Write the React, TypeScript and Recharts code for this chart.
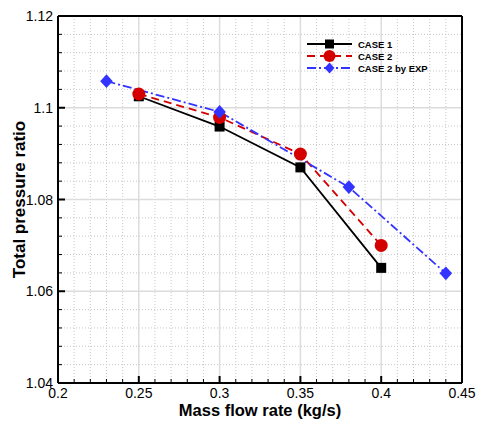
import React from 'react';
import { LineChart, Line, XAxis, YAxis, CartesianGrid, ReferenceLine, Legend } from 'recharts';

const case1 = [
  { x: 0.25, y: 1.1025 },
  { x: 0.3, y: 1.0959 },
  { x: 0.35, y: 1.087 },
  { x: 0.4, y: 1.0651 },
];
const case2 = [
  { x: 0.25, y: 1.103 },
  { x: 0.3, y: 1.0979 },
  { x: 0.35, y: 1.0899 },
  { x: 0.4, y: 1.07 },
];
const case2Exp = [
  { x: 0.23, y: 1.1058 },
  { x: 0.3, y: 1.0991 },
  { x: 0.38, y: 1.0827 },
  { x: 0.44, y: 1.0639 },
];

const xMajor = [0.2, 0.25, 0.3, 0.35, 0.4, 0.45];
const xMinor = [0.21, 0.22, 0.23, 0.24, 0.26, 0.27, 0.28, 0.29, 0.31, 0.32, 0.33, 0.34, 0.36, 0.37, 0.38, 0.39, 0.41, 0.42, 0.43, 0.44];
const yMajor = [1.04, 1.06, 1.08, 1.1, 1.12];
const yMinor = [1.044, 1.048, 1.052, 1.056, 1.064, 1.068, 1.072, 1.076, 1.084, 1.088, 1.092, 1.096, 1.104, 1.108, 1.112, 1.116];
const xLabels = ['0.2', '0.25', '0.3', '0.35', '0.4', '0.45'];
const yLabels = ['1.04', '1.06', '1.08', '1.1', '1.12'];

const xAll = [...xMajor, ...xMinor].sort((a, b) => a - b);
const yAll = [...yMajor, ...yMinor].sort((a, b) => a - b);

const FONT = 'Arial, "Liberation Sans", Helvetica, sans-serif';
const RED = '#d40000';
const BLUE = '#3333ff';

const seriesNames = ['CASE 1', 'CASE 2', 'CASE 2 by EXP'];

const XTick = (props: any) => {
  const { x, y, payload } = props;
  const idx = xMajor.indexOf(payload.value);
  const major = idx >= 0;
  return (
    <g>
      <line x1={x} y1={y} x2={x} y2={y - (major ? 7 : 4)} stroke="#000" strokeWidth={major ? 2 : 1} />
      {major && (
        <text x={x} y={y + 15} textAnchor="middle" fontFamily={FONT} fontSize={14} fill="#000">
          {xLabels[idx]}
        </text>
      )}
    </g>
  );
};

const YTick = (props: any) => {
  const { x, y, payload } = props;
  const idx = yMajor.indexOf(payload.value);
  const major = idx >= 0;
  return (
    <g>
      <line x1={x} y1={y} x2={x + (major ? 7 : 4)} y2={y} stroke="#000" strokeWidth={major ? 2 : 1} />
      {major && (
        <text x={x - 5} y={y + 5} textAnchor="end" fontFamily={FONT} fontSize={14} fill="#000">
          {yLabels[idx]}
        </text>
      )}
    </g>
  );
};

const SquareDot = (props: any) => {
  const { cx, cy, index } = props;
  return <rect key={`s${index}`} x={cx - 5} y={cy - 5} width={10} height={10} fill="#000" />;
};
const CircleDot = (props: any) => {
  const { cx, cy, index } = props;
  return <circle key={`c${index}`} cx={cx} cy={cy} r={6.5} fill={RED} />;
};
const DiamondDot = (props: any) => {
  const { cx, cy, index } = props;
  return (
    <polygon
      key={`d${index}`}
      points={`${cx},${cy - 6.8} ${cx + 6.3},${cy} ${cx},${cy + 6.8} ${cx - 6.3},${cy}`}
      fill={BLUE}
    />
  );
};

const LegendContent = () => {
  const rows = [8, 20, 32];
  return (
    <svg width={170} height={42} style={{ display: 'block' }}>
      <line x1={7} y1={rows[0]} x2={52} y2={rows[0]} stroke="#000" strokeWidth={1.8} />
      <rect x={25} y={rows[0] - 4.5} width={9} height={9} fill="#000" />
      <line x1={7} y1={rows[1]} x2={52} y2={rows[1]} stroke={RED} strokeWidth={1.8} strokeDasharray="8 5" />
      <circle cx={29.5} cy={rows[1]} r={6} fill={RED} />
      <line x1={7} y1={rows[2]} x2={52} y2={rows[2]} stroke={BLUE} strokeWidth={1.8} strokeDasharray="9 3 2 3" />
      <polygon points={`29.5,${rows[2] - 5.5} 34.5,${rows[2]} 29.5,${rows[2] + 5.5} 24.5,${rows[2]}`} fill={BLUE} />
      {seriesNames.map((n, i) => (
        <text key={n} x={58} y={rows[i] + 3.5} fontFamily={FONT} fontSize={9.5} fontWeight="bold" fill="#000">
          {n}
        </text>
      ))}
    </svg>
  );
};

export default function App() {
  return (
    <div style={{ position: 'absolute', left: 0, top: 0, width: 482, height: 421, background: '#fff' }}>
      <LineChart width={482} height={421} margin={{ top: 16, right: 20, left: 8, bottom: 8 }}>
        <CartesianGrid
          verticalValues={xMinor}
          horizontalValues={yMinor}
          stroke="#c8c8c8"
          strokeDasharray="1 2"
          strokeWidth={1}
        />
        <CartesianGrid verticalValues={xMajor} horizontalValues={yMajor} stroke="#dcdcdc" strokeWidth={1.5} />
        <XAxis
          type="number"
          dataKey="x"
          domain={[0.2, 0.45]}
          allowDataOverflow
          ticks={xAll}
          interval={0}
          tickLine={false}
          tickSize={0}
          tickMargin={0}
          tick={<XTick />}
          height={30}
          axisLine={{ stroke: '#000', strokeWidth: 2 }}
          label={{
            content: (p: any) => {
              const vb = p.viewBox || { x: 58, y: 383, width: 404 };
              return (
                <text
                  x={vb.x + vb.width / 2}
                  y={vb.y + 33}
                  textAnchor="middle"
                  fontFamily={FONT}
                  fontSize={16.5}
                  fontWeight="bold"
                  fill="#000"
                >
                  Mass flow rate (kg/s)
                </text>
              );
            },
          }}
        />
        <YAxis
          type="number"
          domain={[1.04, 1.12]}
          allowDataOverflow
          ticks={yAll}
          interval={0}
          tickLine={false}
          tickSize={0}
          tickMargin={0}
          tick={<YTick />}
          width={50}
          axisLine={{ stroke: '#000', strokeWidth: 2 }}
          label={{
            content: (p: any) => {
              const vb = p.viewBox || { x: 8, y: 16, height: 367 };
              const cx = 25;
              const cy = vb.y + vb.height / 2;
              return (
                <text
                  x={cx}
                  y={cy}
                  transform={`rotate(-90 ${cx} ${cy})`}
                  textAnchor="middle"
                  fontFamily={FONT}
                  fontSize={17}
                  fontWeight="bold"
                  fill="#000"
                >
                  Total pressure ratio
                </text>
              );
            },
          }}
        />
        <ReferenceLine x={0.45} stroke="#000" strokeWidth={2} />
        <ReferenceLine y={1.12} stroke="#000" strokeWidth={2} />
        <Legend
          layout="horizontal"
          align="center"
          verticalAlign="middle"
          content={() => <LegendContent />}
          wrapperStyle={{ top: 36, left: 300, width: 170, height: 42 }}
        />
        <Line
          name={seriesNames[0]}
          data={case1}
          dataKey="y"
          type="linear"
          stroke="#000"
          strokeWidth={1.8}
          dot={SquareDot}
          activeDot={false}
          isAnimationActive={false}
        />
        <Line
          name={seriesNames[1]}
          data={case2}
          dataKey="y"
          type="linear"
          stroke={RED}
          strokeWidth={1.8}
          strokeDasharray="8 5"
          dot={CircleDot}
          activeDot={false}
          isAnimationActive={false}
        />
        <Line
          name={seriesNames[2]}
          data={case2Exp}
          dataKey="y"
          type="linear"
          stroke={BLUE}
          strokeWidth={1.8}
          strokeDasharray="9 3 2 3"
          dot={DiamondDot}
          activeDot={false}
          isAnimationActive={false}
        />
      </LineChart>
    </div>
  );
}
